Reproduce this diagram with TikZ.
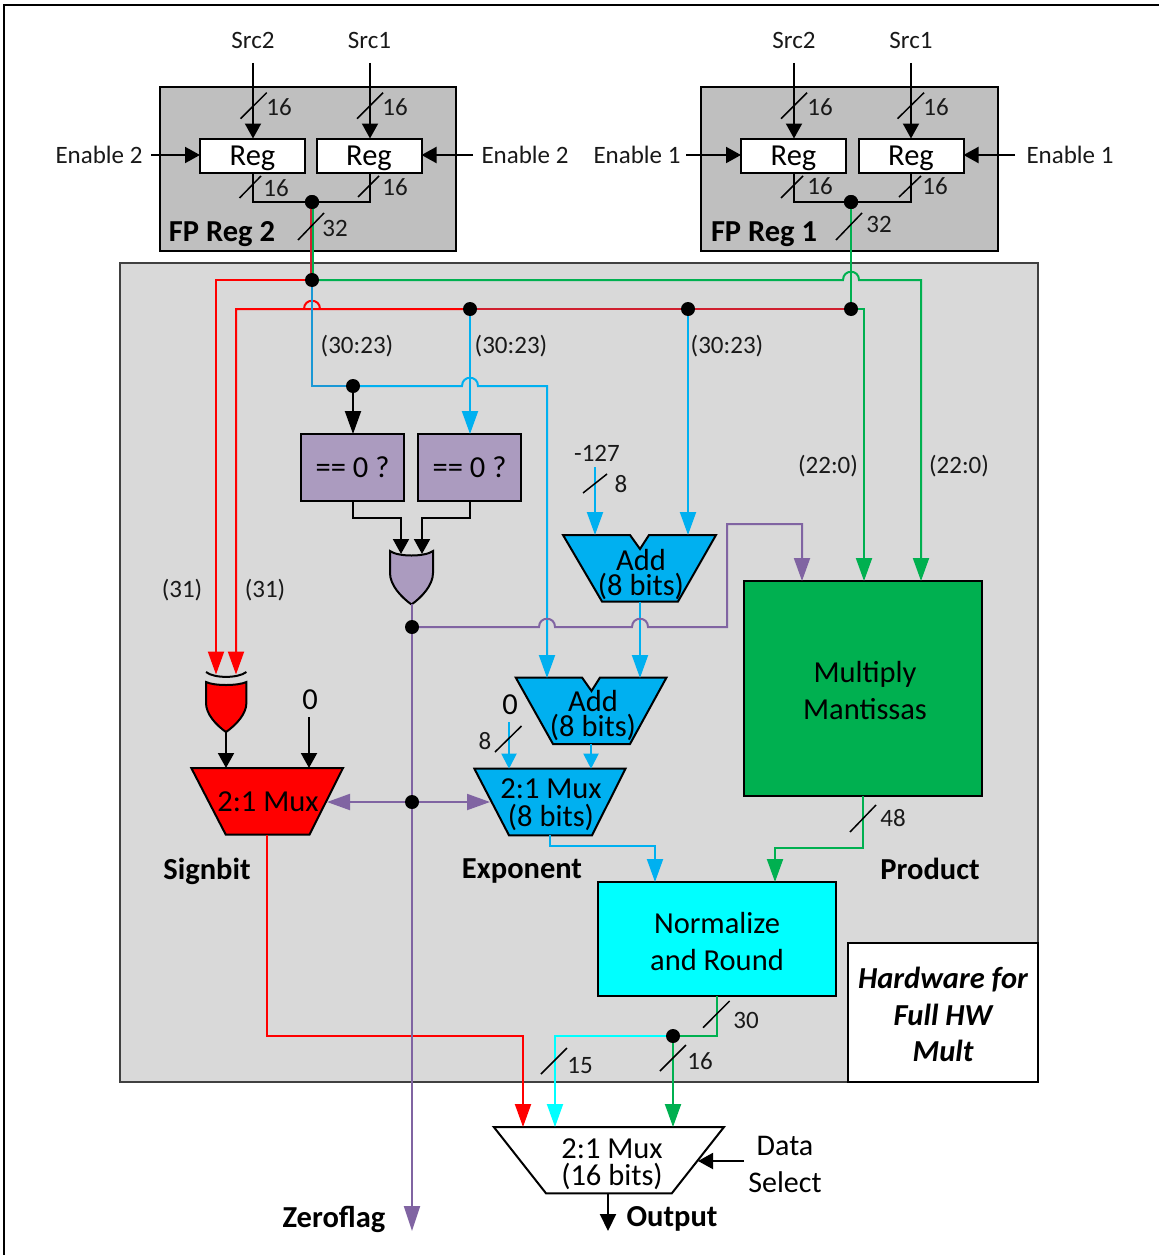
\documentclass[tikz,border=0pt]{standalone}
\usepackage{fontspec}
\setmainfont{Carlito}
\usetikzlibrary{arrows.meta}
\definecolor{cblue}{HTML}{00B0F0}
\definecolor{cdblue}{HTML}{1A98D5}
\definecolor{cgreen}{HTML}{00B050}
\definecolor{cpurple}{HTML}{8064A2}
\definecolor{cpfill}{HTML}{AB9BBF}
\definecolor{cdred}{HTML}{D0202F}
\definecolor{ccyan}{HTML}{00FFFF}
\newcommand{\fsize}[2]{\fontsize{#1}{#2}\selectfont}
\newcommand{\hump}[2]{-- ({#1-8},#2) .. controls ({#1-8},{#2-11}) and ({#1+8},{#2-11}) .. ({#1+8},#2)}
\newcommand{\busmark}[4]{\draw[slashline] (#1,#2) -- (#3,#4);}
\tikzset{
  x=1pt,y=-1pt,
  lbl/.style={inner sep=0pt,yshift=-0.3pt,font=\fsize{25}{28},text=black!90},
  big/.style={inner sep=0pt,font=\fsize{30.5}{37},align=center},
  tight/.style={inner sep=0pt,font=\fsize{30.5}{#1},align=center},
  tit/.style={inner sep=0pt,yshift=-2pt,font=\fsize{30.5}{36}\bfseries},
  wire/.style={line width=2pt,line join=miter},
  blk/.style={wire,black,-{Triangle[length=15pt,width=16pt]}},
  arr/.style={wire,-{Triangle[length=23pt,width=16pt]}},
  sarr/.style={wire,-{Triangle[length=15pt,width=15pt]}},
  slashline/.style={line width=1.5pt,black},
  dot/.style={circle,fill=black,minimum size=14pt,inner sep=0pt,outer sep=0pt},
  regbox/.style={draw=black,line width=2pt,fill=white,minimum width=105pt,minimum height=34pt,inner sep=0pt,outer sep=0pt,text height=19pt,text depth=0pt,font=\fsize{30.5}{34}},
  cmpbox/.style={draw=black,line width=2pt,fill=cpfill,minimum width=103pt,minimum height=67pt,inner sep=0pt,outer sep=0pt,text height=19pt,text depth=0pt,font=\fsize{30.5}{34}},
  gbox/.style={draw=black,line width=2pt,fill=black!25},
  gshape/.style={draw=black,line width=2pt,line join=miter},
}
\begin{document}
\begin{tikzpicture}
\useasboundingbox (0,0) rectangle (1159,1255);
% frame
\draw[line width=2pt,black] (4,1255) -- (4,5) -- (1159,5);
% containers
\draw[gbox] (160,87) rectangle (456,251);
\draw[gbox] (701,87) rectangle (998,251);
\draw[line width=1.6pt,draw=black!75,fill=black!15] (120,263) rectangle (1038,1082);
\node[draw=black,line width=2pt,fill=white,minimum width=190pt,minimum height=139pt,inner sep=0pt,outer sep=0pt,font=\fsize{30.5}{36.5}\bfseries\itshape,align=center] (hw) at (943,1012.5) {\rule{0pt}{26pt}Hardware for\\Full HW\\Mult};
\node[tit] (fp2) at (222,232) {FP Reg 2};
\node[tit] (fp1) at (764,232) {FP Reg 1};
% coordinates
\coordinate (s2a) at (253,63); \coordinate (s1a) at (370,63);
\coordinate (s2b) at (794,63); \coordinate (s1b) at (911,63);
\coordinate (en2l) at (151,155); \coordinate (en2r) at (473,155);
\coordinate (en1l) at (686,155); \coordinate (en1r) at (1015,155);
% registers
\node[regbox] (r2a) at (252.5,155.5) {Reg};
\node[regbox] (r2b) at (369,155.5) {Reg};
\node[regbox] (r1a) at (793.5,155.5) {Reg};
\node[regbox] (r1b) at (911,155.5) {Reg};
\node[dot] (j2) at (312,202) {};
\node[dot] (j1) at (851,202) {};
\coordinate (ta) at (312,280);
\coordinate (tb) at (851,309);
\coordinate (tc) at (470,309);
\coordinate (td) at (688,309);
\coordinate (te) at (353,386);
% compare boxes
\node[cmpbox] (c1) at (352.5,467.5) {== 0 ?};
\node[cmpbox] (c2) at (469.5,467.5) {== 0 ?};
% gates
\draw[gshape,fill=cpfill] (390,551) .. controls (398,557) and (425,557) .. (433,551) -- (433,573) .. controls (433,585) and (422,597) .. (411.5,604.5) .. controls (401,597) and (390,585) .. (390,573) -- cycle;
\coordinate (orA) at (401,554); \coordinate (orB) at (422,554); \coordinate (orO) at (412,604);
\draw[gshape,fill=red] (206,682) .. controls (214,686) and (238,686) .. (246.4,682) -- (246.4,703) .. controls (246.4,714) and (236,725) .. (226,732) .. controls (216,725) and (206,714) .. (206,703) -- cycle;
\draw[line width=2pt,black] (206,672) .. controls (214,678.5) and (238,678.5) .. (246.4,672);
\coordinate (xA) at (216,674.5); \coordinate (xB) at (236,674.5); \coordinate (xO) at (226,732);
% adders and muxes
\draw[gshape,fill=cblue] (563,535) -- (630,535) -- (640,549) -- (649,535) -- (716,535) -- (678,601.5) -- (602,601.5) -- cycle;
\node[tight=25] (add1) at (641,575) {Add\\(8 bits)};
\draw[gshape,fill=cblue] (515.7,677.5) -- (582,677.5) -- (591.5,691) -- (600,677.5) -- (666.5,677.5) -- (630,744) -- (553,744) -- cycle;
\node[tight=25] (add2) at (593,716) {Add\\(8 bits)};
\draw[gshape,fill=cblue] (474.4,768.7) -- (625.5,768.7) -- (592,835.3) -- (509,835.3) -- cycle;
\node[tight=28] (mux8) at (551,805) {2:1 Mux\\(8 bits)};
\draw[gshape,fill=red] (191.3,768) -- (343,768) -- (309.4,834.7) -- (225.8,834.7) -- cycle;
\node[big] (mux1) at (268,802) {2:1 Mux};
\draw[gshape,fill=white] (493.8,1127) -- (724,1127) -- (671.8,1193.3) -- (546,1193.3) -- cycle;
\node[tight=27] (mux16) at (612,1164.5) {2:1 Mux\\(16 bits)};
% big blocks
\node[draw=black,line width=2pt,fill=cgreen,minimum width=238pt,minimum height=215pt,inner sep=0pt,outer sep=0pt,font=\fsize{30.5}{37},align=center] (mult) at (863,688.5) {\rule{0pt}{25pt}\hspace*{4pt}Multiply\\\hspace*{4pt}Mantissas};
\node[draw=black,line width=2pt,fill=ccyan,minimum width=237.5pt,minimum height=114pt,inner sep=0pt,outer sep=0pt,font=\fsize{30.5}{37},align=center] (norm) at (717,939) {\rule{0pt}{27pt}Normalize\\and Round};
% top inputs
\draw[blk] (s2a) -- (s2a |- r2a.north);
\draw[blk] (s1a) -- (s1a |- r2b.north);
\draw[blk] (s2b) -- (s2b |- r1a.north);
\draw[blk] (s1b) -- (s1b |- r1b.north);
\draw[blk] (en2l) -- (en2l -| r2a.west);
\draw[blk] (en2r) -- (en2r -| r2b.east);
\draw[blk] (en1l) -- (en1l -| r1a.west);
\draw[blk] (en1r) -- (en1r -| r1b.east);
\draw[wire,black] (s2a |- r2a.south) |- (j2.center) -| (s1a |- r2b.south);
\draw[wire,black] (s2b |- r1a.south) |- (j1.center) -| (r1b.south);
% red wires
\draw[arr,red] (ta) -| (xA);
\draw[arr,red] (tc) \hump{312}{309} -| (xB);
\draw[wire,cdred] (tc) -- (tb);
% green wires
\draw[wire,cdred,line width=1.5pt] ([xshift=-1pt]j2.center) -- ([xshift=-1pt]ta);
\draw[wire,cgreen,line width=1.6pt] ([xshift=0.7pt]j2.center) -- ([xshift=0.7pt]ta);
\coordinate (mg) at (921,581); \coordinate (mh) at (864,581);
\draw[arr,cgreen] (ta) \hump{851}{280} -| (mg);
\draw[wire,cgreen] (j1.center) -- (tb);
\draw[arr,cgreen] (tb) -| (mh);
% blue wires
\coordinate (pA) at (547,678); \coordinate (pB) at (640,678);
\draw[arr,cblue] (te) \hump{470}{386} -| (pA);
\draw[wire,cdblue] (ta) |- (te);
\draw[arr,cblue] (tc) -- (tc |- c2.north);
\draw[arr,black] (te) -- (te |- c1.north);
\coordinate (aA) at (595,467); \coordinate (aAe) at (595,535);
\draw[arr,cblue] (aA) -- (aAe);
\coordinate (aBe) at (688,535);
\draw[arr,cblue] (td) -- (aBe);
\coordinate (a1o) at (640,601.5);
\draw[arr,cblue] (a1o) -- (pB);
\coordinate (a2o) at (591,744); \coordinate (m8r) at (591,768.7);
\draw[sarr,cblue] (a2o) -- (m8r);
\coordinate (zs) at (509,722); \coordinate (zse) at (509,768.7);
\draw[sarr,cblue] (zs) -- (zse);
\coordinate (m8o) at (550,835.3); \coordinate (nA) at (655,882);
\draw[arr,cblue] (m8o) |- (655,846) -- (nA);
% OR gate inputs and outputs
\draw[blk] (te |- c1.south) |- (401,518) -- (orA);
\draw[blk] (tc |- c2.south) |- (422,518) -- (orB);
% XOR / sign path
\coordinate (m1a) at (226,768); \coordinate (m1b) at (309,768); \coordinate (zr) at (309,717);
\draw[blk] (xO) -- (m1a);
\draw[blk] (zr) -- (m1b);
\coordinate (m1o) at (267,834.7);
\coordinate (mo1) at (523,1127);
\draw[arr,red] (m1o) |- (523,1036) -- (mo1);
% purple wires
\coordinate (jp1c) at (412,627);
\coordinate (jp2c) at (412,802);
\coordinate (zf) at (412,1231);
\draw[wire,cpurple] (orO) -- (jp1c);
\draw[wire,cpurple,-{Triangle[length=25pt,width=16pt]}] (jp1c) -- (zf);
\coordinate (mu) at (802,581);
\draw[arr,cpurple] (jp1c) \hump{547}{627} \hump{640}{627} -- (727,627) |- (802,524) -- (mu);
\coordinate (mxl) at (327,802); \coordinate (mxr) at (490,802);
\draw[arr,cpurple] (jp2c) -- (mxl);
\draw[arr,cpurple] (jp2c) -- (mxr);
\node[dot] (jp1) at (jp1c) {};
\node[dot] (jp2) at (jp2c) {};
% lower green
\coordinate (mout) at (863,796); \coordinate (nB) at (775,882);
\draw[arr,cgreen] (mout) |- (775,848) -- (nB);
\coordinate (jnc) at (673,1036);
\coordinate (nout) at (717,996);
\coordinate (mo2) at (555,1127); \coordinate (mo3) at (673,1127);
\draw[arr,ccyan] (jnc) -| (mo2);
\draw[wire,cgreen] (nout) |- (jnc);
\draw[arr,cgreen] (jnc) -- (mo3);
\node[dot] (jn) at (jnc) {};
\coordinate (mo4) at (608,1193.3); \coordinate (oe) at (608,1231);
\draw[wire,black,-{Triangle[length=17pt,width=16pt]}] (mo4) -- (oe);
\coordinate (ds) at (744,1161); \coordinate (dse) at (698,1161);
\draw[blk] (ds) -- (dse);
% dots on top
\node[dot] (jta) at (ta) {};
\node[dot] (jtb) at (tb) {};
\node[dot] (jtc) at (tc) {};
\node[dot] (jtd) at (td) {};
\node[dot] (jte) at (te) {};
\node[dot] (j2b) at (j2) {};
\node[dot] (j1b) at (j1) {};
% bus marks
\busmark{240.5}{118.7}{266.7}{92.7}
\busmark{357}{118.7}{383}{92.7}
\busmark{781}{118.7}{807}{92.7}
\busmark{897.5}{118.7}{924}{92.7}
\busmark{239.5}{198}{261}{176}
\busmark{358}{197}{379}{176}
\busmark{781}{198}{803}{176}
\busmark{899}{197}{921}{176}
\busmark{298}{240}{324}{213}
\busmark{836}{240}{862}{213}
\busmark{583}{493}{607}{474}
\busmark{495}{752}{521.5}{726}
\busmark{850}{832}{876}{805}
\busmark{703}{1027.7}{729.6}{1001}
\busmark{541}{1074}{567}{1048}
\busmark{660}{1071}{686}{1045}
% labels
\node[lbl] (l1) at (253,40) {Src2};
\node[lbl] (l2) at (369.5,40) {Src1};
\node[lbl] (l3) at (794,40) {Src2};
\node[lbl] (l4) at (911,40) {Src1};
\node[lbl] (l5) at (99,155) {Enable 2};
\node[lbl] (l6) at (525,155) {Enable 2};
\node[lbl] (l7) at (637,155) {Enable 1};
\node[lbl] (l8) at (1070,155) {Enable 1};
\node[lbl] (b1) at (279,107) {16};
\node[lbl] (b2) at (395,107) {16};
\node[lbl] (b3) at (820,107) {16};
\node[lbl] (b4) at (936,107) {16};
\node[lbl] (b5) at (276,188) {16};
\node[lbl] (b6) at (395,187) {16};
\node[lbl] (b7) at (820,185.5) {16};
\node[lbl] (b8) at (935,185.5) {16};
\node[lbl] (b9) at (335,228) {32};
\node[lbl] (b10) at (879,224) {32};
\node[lbl] (p1) at (357,346) {(30:23)};
\node[lbl] (p2) at (511,346) {(30:23)};
\node[lbl] (p3) at (727,346) {(30:23)};
\node[lbl] (p4) at (828,466) {(22:0)};
\node[lbl] (p5) at (959,466) {(22:0)};
\node[lbl] (p6) at (182,590) {(31)};
\node[lbl] (p7) at (265,590) {(31)};
\node[lbl] (k1) at (597,453) {-127};
\node[lbl] (k2) at (621,484) {8};
\node[lbl] (k3) at (485,741) {8};
\node[big] (k4) at (510,705) {0};
\node[big] (k5) at (310,700) {0};
\node[lbl] (b11) at (893,818) {48};
\node[lbl] (b12) at (746,1020) {30};
\node[lbl] (b13) at (580,1065) {15};
\node[lbl] (b14) at (700,1061) {16};
\node[tit] (t1) at (207,869) {Signbit};
\node[tit] (t2) at (522,869) {Exponent};
\node[tit] (t3) at (930,867) {Product};
\node[tit] (t4) at (334,1217) {Zeroflag};
\node[tit] (t5) at (672,1217) {Output};
\node[inner sep=0pt,yshift=-0.5pt,font=\fsize{30}{37},align=center] (t6) at (785,1163.5) {Data\\Select};
\end{tikzpicture}
\end{document}
